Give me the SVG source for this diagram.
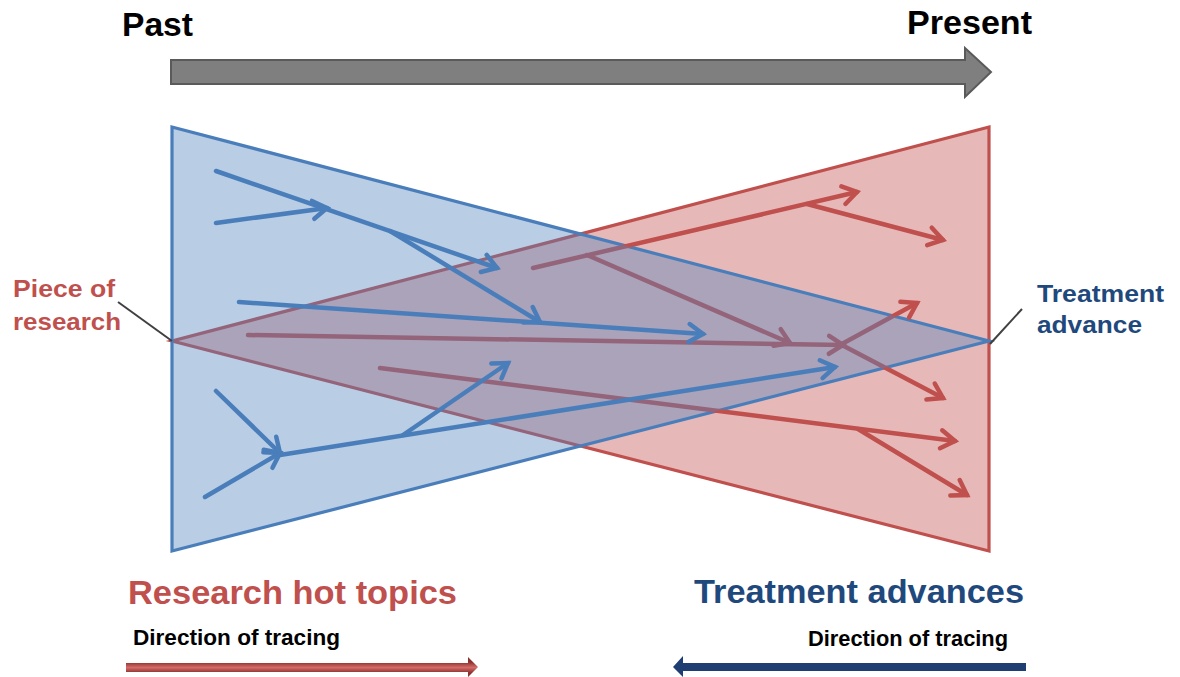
<svg xmlns="http://www.w3.org/2000/svg" width="1180" height="677" viewBox="0 0 1180 677">
  <style>
    text { font-family: "Liberation Sans", Arial, sans-serif; font-weight: bold; }
    .time { font-size: 34px; fill: #000000; }
    .red-label { fill: #c0504d; }
    .blue-label { fill: #1f497d; }
    .small { font-size: 24px; }
    .big { font-size: 33px; }
    .dir { font-size: 22.5px; fill: #000000; }
    .leader { stroke: #404040; stroke-width: 2; fill: none; }
    .blue-arrow { stroke: #4a7ebb; stroke-width: 4.5; fill: none; stroke-linecap: round; }
    .red-arrow { stroke: url(#redPaint); stroke-width: 4.5; fill: none; stroke-linecap: round; }
  </style>
  <defs>
    <pattern id="redPaint" patternUnits="userSpaceOnUse" x="0" y="0" width="1180" height="677">
      <rect width="1180" height="677" fill="#c0504d"/>
      <polygon points="172,127 172,551 989,341" fill="#93647a"/>
    </pattern>
    <marker id="mBlue" markerUnits="userSpaceOnUse" viewBox="-20 -14 26 28" markerWidth="26" markerHeight="28" refX="0" refY="0" orient="auto" overflow="visible">
      <path d="M-14,-9 L0,0 L-14,9" fill="none" stroke="#4a7ebb" stroke-width="4.5" stroke-linecap="round" stroke-linejoin="miter"/>
    </marker>
    <marker id="mRed" markerUnits="userSpaceOnUse" viewBox="-20 -14 26 28" markerWidth="26" markerHeight="28" refX="0" refY="0" orient="auto" overflow="visible">
      <path d="M-14,-9 L0,0 L-14,9" fill="none" stroke="#c0504d" stroke-width="4.5" stroke-linecap="round" stroke-linejoin="miter"/>
    </marker>
    <marker id="mMauve" markerUnits="userSpaceOnUse" viewBox="-20 -14 26 28" markerWidth="26" markerHeight="28" refX="0" refY="0" orient="auto" overflow="visible">
      <path d="M-14,-9 L0,0 L-14,9" fill="none" stroke="#93647a" stroke-width="4.5" stroke-linecap="round" stroke-linejoin="miter"/>
    </marker>
    <linearGradient id="redBar" gradientUnits="userSpaceOnUse" x1="0" y1="662" x2="0" y2="673">
      <stop offset="0" stop-color="#8c2f2d"/>
      <stop offset="0.5" stop-color="#d36b67"/>
      <stop offset="1" stop-color="#8c2f2d"/>
    </linearGradient>
  </defs>

  <rect width="1180" height="677" fill="#ffffff"/>

  <g id="timeline">
    <polygon points="171,60 965,60 965,48 991,72 965,97 965,84 171,84" fill="#7f7f7f" stroke="#5a5a5a" stroke-width="2"/>
    <text class="time" x="122" y="36" textLength="71" lengthAdjust="spacingAndGlyphs">Past</text>
    <text class="time" x="907" y="34" textLength="125" lengthAdjust="spacingAndGlyphs">Present</text>
  </g>

  <g id="research-triangle">
    <polygon points="989,127 989,551 172,341" fill="#c0504d" fill-opacity="0.4" stroke="#c0504d" stroke-width="3.2" stroke-linejoin="miter"/>
  </g>

  <g id="treatment-triangle">
    <polygon points="172,127 172,551 989,341" fill="#4f81bd" fill-opacity="0.4" stroke="#4a7ebb" stroke-width="3.2" stroke-linejoin="miter"/>
  </g>

  <g id="connectors">
    <g id="red-connectors">
      <path class="red-arrow" d="M248,335 L843,345" marker-end="url(#mMauve)"/>
      <path class="red-arrow" d="M587,255 L790,343" marker-end="url(#mMauve)"/>
      <path class="red-arrow" d="M533,268 L857,192" marker-end="url(#mRed)"/>
      <path class="red-arrow" d="M807,204 L943,240" marker-end="url(#mRed)"/>
      <path class="red-arrow" d="M840,345 L917,303" marker-end="url(#mRed)"/>
      <path class="red-arrow" d="M840,344 L943,398" marker-end="url(#mRed)"/>
      <path class="red-arrow" d="M380,368 L955,441" marker-end="url(#mRed)"/>
      <path class="red-arrow" d="M858,429 L967,495" marker-end="url(#mRed)"/>
    </g>
    <g id="blue-connectors">
      <path class="blue-arrow" d="M216,171 L497,268" marker-end="url(#mBlue)"/>
      <path class="blue-arrow" d="M216,223 L327,208" marker-end="url(#mBlue)"/>
      <path class="blue-arrow" d="M390,231 L540,322" marker-end="url(#mBlue)"/>
      <path class="blue-arrow" d="M239,302 L703,334" marker-end="url(#mBlue)"/>
      <path class="blue-arrow" d="M216,391 L280,453" marker-end="url(#mBlue)"/>
      <path class="blue-arrow" d="M205,497 L280,453" marker-end="url(#mBlue)"/>
      <path class="blue-arrow" d="M280,455 L835,367" marker-end="url(#mBlue)"/>
      <path class="blue-arrow" d="M403,435 L508,363" marker-end="url(#mBlue)"/>
    </g>
    <line class="leader" x1="118" y1="302" x2="172" y2="341"/>
    <line class="leader" x1="1022" y1="309" x2="990" y2="344"/>
  </g>

  <g id="label-piece">
    <text class="small red-label" x="13" y="297" textLength="102" lengthAdjust="spacingAndGlyphs">Piece of</text>
    <text class="small red-label" x="13" y="330" textLength="108" lengthAdjust="spacingAndGlyphs">research</text>
  </g>

  <g id="label-advance">
    <text class="small blue-label" x="1037" y="302" textLength="127" lengthAdjust="spacingAndGlyphs">Treatment</text>
    <text class="small blue-label" x="1037" y="333" textLength="105" lengthAdjust="spacingAndGlyphs">advance</text>
  </g>

  <g id="research-legend">
    <text class="big red-label" x="128" y="604" textLength="329" lengthAdjust="spacingAndGlyphs">Research hot topics</text>
    <text class="dir" x="133" y="645" textLength="207" lengthAdjust="spacingAndGlyphs">Direction of tracing</text>
    <polygon points="126,663 468,663 468,657 478,667 468,677 468,672 126,672" fill="url(#redBar)"/>
  </g>

  <g id="treatment-legend">
    <text class="big blue-label" x="694" y="603" textLength="330" lengthAdjust="spacingAndGlyphs">Treatment advances</text>
    <text class="dir" x="808" y="646" textLength="200" lengthAdjust="spacingAndGlyphs">Direction of tracing</text>
    <polygon points="673,667 683,656 683,663 1026,663 1026,671 683,671 683,677" fill="#1f3f73"/>
  </g>
</svg>
